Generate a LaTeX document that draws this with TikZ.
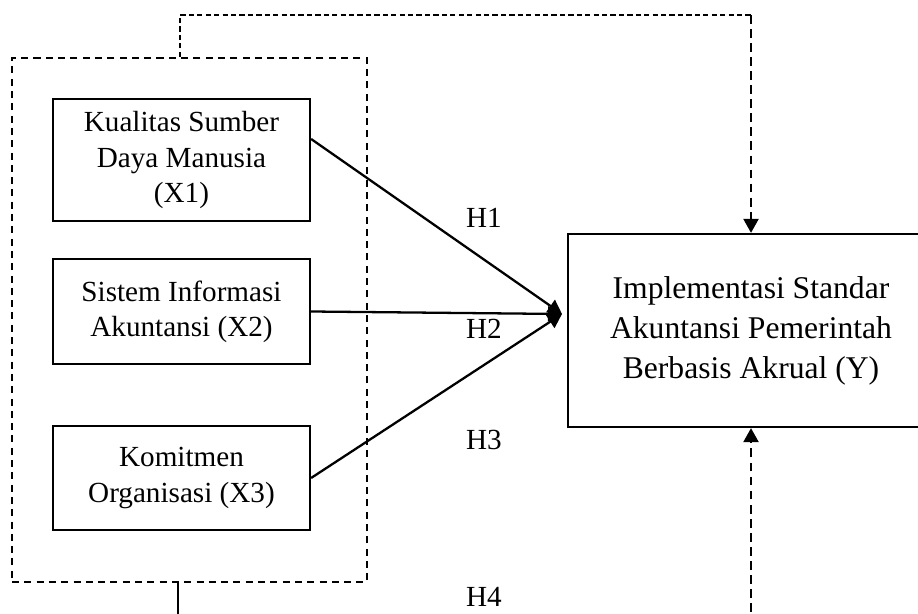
\documentclass[tikz,border=0pt]{standalone}
\usepackage{fontspec}
\setmainfont{Liberation Serif}
\usetikzlibrary{arrows.meta}

\begin{document}
\begin{tikzpicture}[x = 0.02cm, y = -0.02cm, line width = 1.3pt,
                        var/.style = {draw, align = center, minimum width = 5.14cm, font = \fontsize{16.6}{20}\selectfont},
                        dep/.style = {draw, align = center, minimum width = 7.32cm, minimum height = 3.86cm, font = \fontsize{18}{22.8}\selectfont},
                        group/.style = {draw, dash pattern = on 4pt off 3pt, line width = 1.4pt, minimum width = 7.1cm, minimum height = 10.48cm},
                        hyp/.style = {font = \fontsize{16.6}{20}\selectfont},
                        link/.style = {-{Triangle[length = 8pt, width = 8.5pt]}},
                        thindash/.style = {line width = 0.7pt, dash pattern = on 3pt off 1.8pt},
                        thickdash/.style = {line width = 1.5pt, dash pattern = on 5pt off 3pt}]
      \useasboundingbox (0, 0) rectangle (918, 614);

      \node [group] (grp) at (189.5, 320){};
      \node [var, minimum height = 2.44cm] (x1) at (181.5, 160){Kualitas Sumber\\Daya Manusia\\(X1)};
      \node [var, minimum height = 2.1cm] (x2) at (181.5, 311.5){Sistem Informasi\\Akuntansi (X2)};
      \node [var, minimum height = 2.08cm] (x3) at (181.5, 478){Komitmen\\Organisasi (X3)};
      \node [dep] (y) at (751, 330.5){Implementasi Standar\\Akuntansi Pemerintah\\Berbasis Akrual (Y)};

      \node [hyp] (h1) at (484, 218){H1};
      \node [hyp] (h2) at (484, 329){H2};
      \node [hyp] (h3) at (484, 440){H3};
      \node [hyp, anchor = base, inner sep = 0pt] (h4) at (484, 606){H4};

      \coordinate (hub) at (562, 314);
      \coordinate (tl) at (180, 15);
      \coordinate (tr) at (751, 15);
      \coordinate (bl) at (178, 640);
      \coordinate (br) at (751, 640);

      \draw [link] ([yshift = 0.42cm]x1.east) -- (hub);
      \draw [link] (x2.east) -- (hub);
      \draw [link] (x3.east) -- (hub);

      \draw [thindash] (grp.north -| tl) -- (tl) -- (tr);
      \draw [thickdash, link] (tr) -- (y.north);
      \draw [line width = 0.7pt] (grp.south -| bl) -- (bl);
      \draw [thickdash, link] (br) -- (y.south);
      \end{tikzpicture}
\end{document}
